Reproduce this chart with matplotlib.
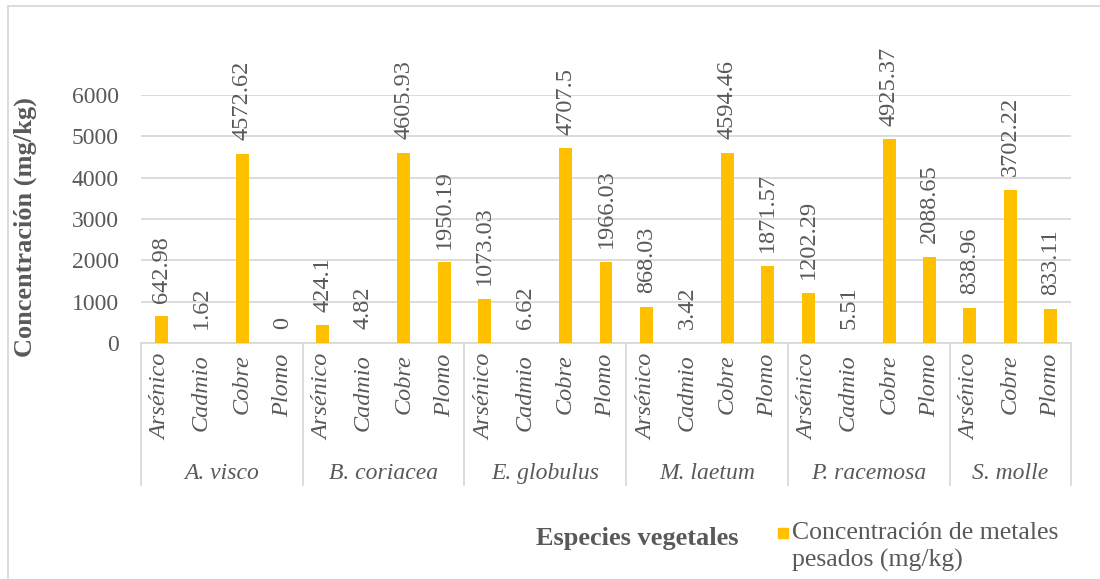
import matplotlib.pyplot as plt
from matplotlib.patches import Rectangle
from matplotlib.lines import Line2D
import numpy as np

# ===== Data =====
species = ["A. visco", "B. coriacea", "E. globulus", "M. laetum", "P. racemosa", "S. molle"]
metals = [
    ["Arsénico", "Cadmio", "Cobre", "Plomo"],
    ["Arsénico", "Cadmio", "Cobre", "Plomo"],
    ["Arsénico", "Cadmio", "Cobre", "Plomo"],
    ["Arsénico", "Cadmio", "Cobre", "Plomo"],
    ["Arsénico", "Cadmio", "Cobre", "Plomo"],
    ["Arsénico", "Cobre", "Plomo"],
]
values = [
    [642.98, 1.62, 4572.62, 0],
    [424.1, 4.82, 4605.93, 1950.19],
    [1073.03, 6.62, 4707.5, 1966.03],
    [868.03, 3.42, 4594.46, 1871.57],
    [1202.29, 5.51, 4925.37, 2088.65],
    [838.96, 3702.22, 833.11],
]
value_labels = [
    ["642.98", "1.62", "4572.62", "0"],
    ["424.1", "4.82", "4605.93", "1950.19"],
    ["1073.03", "6.62", "4707.5", "1966.03"],
    ["868.03", "3.42", "4594.46", "1871.57"],
    ["1202.29", "5.51", "4925.37", "2088.65"],
    ["838.96", "3702.22", "833.11"],
]
legend_label = "Concentración de metales\npesados (mg/kg)"

# ===== Style =====
BAR = "#FFC000"
TXT = "#595959"
GRID = "#D9D9D9"
plt.rcParams["font.family"] = ["Liberation Serif", "DejaVu Serif"]

fig = plt.figure(figsize=(11, 5.79), dpi=100)
ax = fig.add_axes([141 / 1100, 1 - 343 / 579, 930 / 1100, 248 / 579])

# flatten
cats, vals, labs, groups = [], [], [], []
for g, (ms, vs, ls) in enumerate(zip(metals, values, value_labels)):
    cats += ms
    vals += vs
    labs += ls
    groups.append(len(ms))
x = np.arange(len(vals))

ax.bar(x, vals, width=0.32, color=BAR, zorder=3)
for xi, v, lab in zip(x, vals, labs):
    ax.annotate(lab, (xi, v), xytext=(0, 10), textcoords="offset points",
                rotation=90, ha="center", va="bottom", fontsize=17.5,
                color=TXT, annotation_clip=False)

ax.set_xlim(-0.5, len(vals) - 0.5)
ax.set_ylim(0, 6000)
ax.set_yticks(np.arange(0, 6001, 1000))
ax.yaxis.grid(True, color=GRID, linewidth=1.3, zorder=0)
ax.tick_params(axis="y", length=0, pad=16, labelsize=17, labelcolor=TXT)
ax.set_xticks(x)
ax.set_xticklabels(cats, rotation=90, style="italic", fontsize=17.5, color=TXT)
ax.tick_params(axis="x", length=0, pad=8)
for s in ["top", "right", "left"]:
    ax.spines[s].set_visible(False)
ax.spines["bottom"].set_color(GRID)
ax.spines["bottom"].set_linewidth(1.3)

# group labels and separators
trans = ax.get_xaxis_transform()
start = 0
bounds = [-0.5]
for name, n in zip(species, groups):
    ax.text(start + (n - 1) / 2, -0.528, name, transform=trans, ha="center",
            va="center", style="italic", fontsize=17, color=TXT)
    start += n
    bounds.append(start - 0.5)
for b in bounds:
    ax.add_line(Line2D([b, b], [0, -0.573], transform=trans, color=GRID,
                       linewidth=1.3, clip_on=False))

# axis titles
fig.text(25 / 1100, 1 - 227 / 579, "Concentración (mg/kg)", rotation=90,
         ha="center", va="center", fontsize=19, fontweight="bold", color=TXT)
fig.text(637 / 1100, 1 - 538 / 579, "Especies vegetales", ha="center",
         va="center", fontsize=19, fontweight="bold", color=TXT)

# legend
fig.add_artist(Rectangle((778 / 1100, 1 - 538 / 579), 10 / 1100, 10 / 579,
                         color=BAR, transform=fig.transFigure))
fig.text(792 / 1100, 1 - 522 / 579, legend_label, ha="left", va="top",
         fontsize=18.5, color=TXT, linespacing=1.3)

# outer border (top & left visible)
fig.add_artist(Line2D([7.5 / 1100, 1], [1 - 5.5 / 579] * 2, color=GRID,
                      linewidth=1.3, transform=fig.transFigure))
fig.add_artist(Line2D([7.5 / 1100] * 2, [0, 1 - 5.5 / 579], color=GRID,
                      linewidth=1.3, transform=fig.transFigure))

fig.savefig("out.png", dpi=100)
